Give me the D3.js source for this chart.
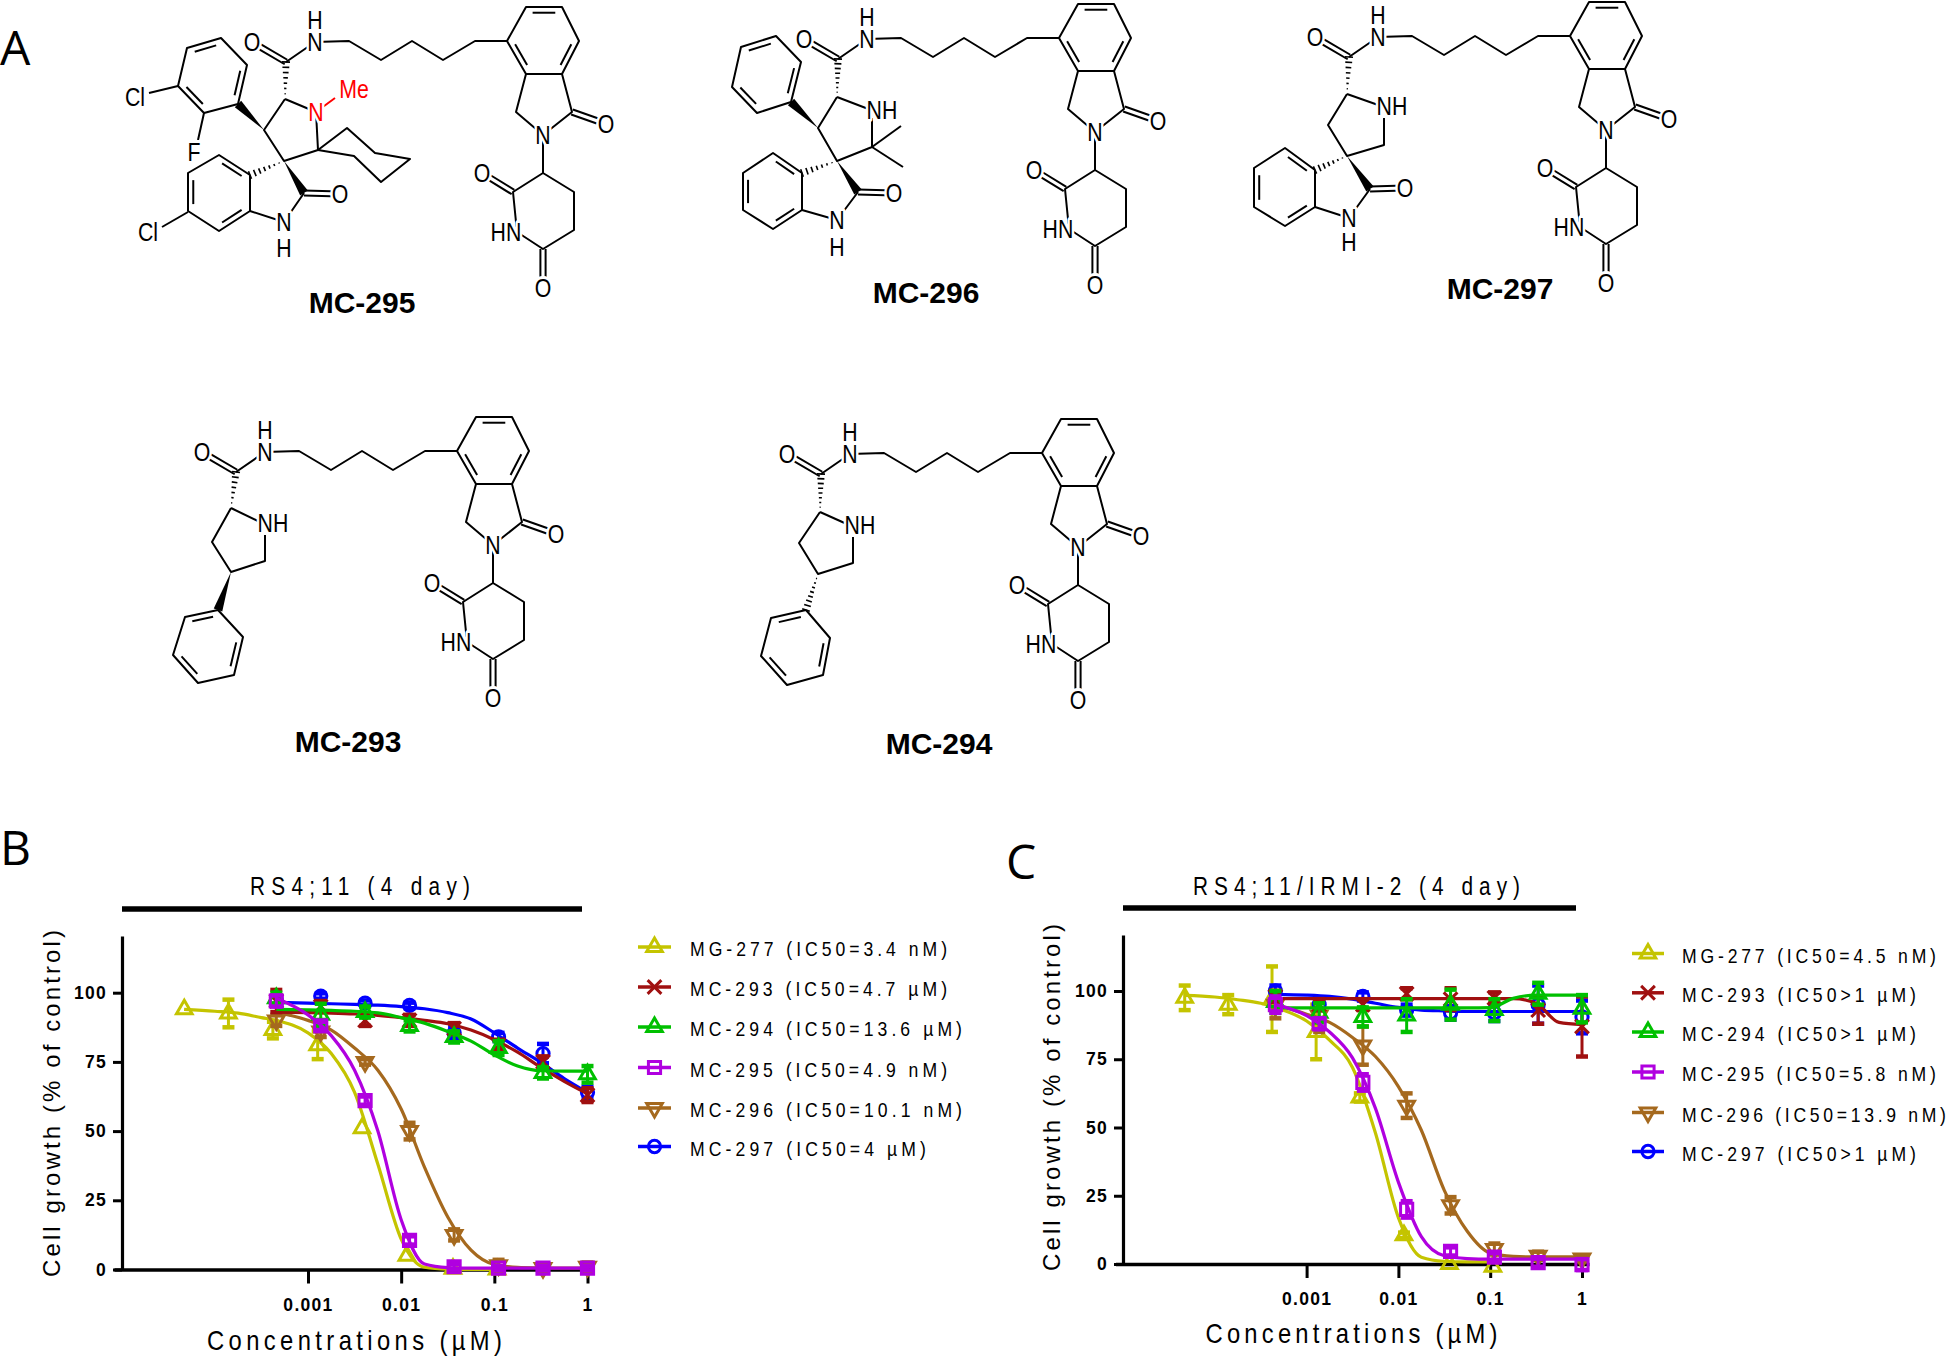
<!DOCTYPE html>
<html><head><meta charset="utf-8">
<script src="https://cdnjs.cloudflare.com/ajax/libs/d3/7.8.5/d3.min.js"></script>
<style>html,body{margin:0;background:#fff}svg{display:block}text{font-family:"Liberation Sans",Arial,sans-serif;fill:#000}</style>
</head><body><svg id="c" width="1950" height="1356"></svg>
<script>
// ---------- DATA ----------
const tickValues = [0.001, 0.01, 0.1, 1];
const tickLabels = ["0.001", "0.01", "0.1", "1"];
const yTicks = [0, 25, 50, 75, 100];
const concMC = [1, 0.333, 0.111, 0.037, 0.0123, 0.0041, 0.00137, 0.000457];
const concMG = [0.107, 0.036, 0.0115, 0.0038, 0.00127, 0.00042, 0.00014, 0.000047];
const fitLogC = [-4.33, -4, -3.75, -3.5, -3.34, -3, -2.75, -2.5, -2.25, -2, -1.75, -1.5, -1.25, -1, -0.75, -0.5, -0.25, 0];
const seriesNames = ["MG-277", "MC-293", "MC-294", "MC-295", "MC-296", "MC-297"];
const seriesColors = ["#c4c400", "#a01010", "#00c000", "#b000e0", "#a5691e", "#0000ff"];
const drawOrder = [0, 5, 4, 1, 2, 3];
const legendB = ["MG-277 (IC50=3.4 nM)", "MC-293 (IC50=4.7 µM)", "MC-294 (IC50=13.6 µM)", "MC-295 (IC50=4.9 nM)", "MC-296 (IC50=10.1 nM)", "MC-297 (IC50=4 µM)"];
const legendC = ["MG-277 (IC50=4.5 nM)", "MC-293 (IC50>1 µM)", "MC-294 (IC50>1 µM)", "MC-295 (IC50=5.8 nM)", "MC-296 (IC50=13.9 nM)", "MC-297 (IC50>1 µM)"];

const bMeans = [
  [0, 0.3, 5, 51, 81, 86.5, 92.5, 94],
  [63, 75, 81, 87, 90, 90, 95, 97],
  [70.5, 71, 80, 84, 88, 93, 92, 98],
  [0.5, 0.5, 0.5, 1, 10.5, 61, 88, 97],
  [1, 0.5, 1.5, 12.5, 50, 75, 86, 90],
  [64, 78, 84, 85.5, 95.4, 96.2, 98.8, 97]];
const bErrs = [
  [0, 0, 0, 0, 5, 3, 5, 0],
  [2.5, 2, 2, 2, 2, 2, 2, 4],
  [3, 2, 2.5, 2, 2, 2, 4, 2],
  [0.8, 0.8, 0.8, 1, 1.5, 1.5, 1.5, 2],
  [1.5, 1, 2, 2, 3, 1, 2, 2],
  [2, 3.5, 1.5, 2, 1, 1, 1, 1.5]];
const bFits = [
  [94, 93.3, 92.6, 91, 90, 85.5, 78, 64, 38, 11, 0.8, 0.1, 0, 0, null, null, null, null],
  [null, null, null, null, 93, 92.8, 92.6, 92.3, 91.8, 91, 90, 88.8, 86.5, 83, 78.5, 73, 68, 63.5],
  [null, null, null, null, 94, 93.8, 93.6, 93.3, 92.7, 91, 89, 86, 82.5, 77.5, 73.5, 71.8, 71.7, 71.7],
  [null, null, null, null, 98, 92, 84.5, 72, 50, 18, 2, 0.7, 0.5, 0.5, 0.5, 0.5, 0.5, 0.5],
  [null, null, null, null, 93, 90, 86.5, 80, 72, 58, 37, 19, 7, 1.8, 0.8, 0.6, 0.5, 0.5],
  [null, null, null, null, 96.5, 96.2, 96, 95.8, 95.5, 95, 94.2, 92.8, 90.5, 85.5, 80, 74.8, 69, 64]];

const cMeans = [
  [-1, 0, 10.5, 61, 85, 97, 95, 97.5],
  [87, 93, 97.5, 97, 99, 95, 95, 98],
  [93.5, 99, 93, 95, 91, 90.5, 92, 96],
  [-0.2, 0.5, 2.5, 4.6, 20, 66.5, 88, 95],
  [2, 3, 5.5, 21.5, 58, 80, 91, 95],
  [90.5, 95, 92, 92, 93, 98, 95, 100]];
const cErrs = [
  [0, 0, 1, 1.5, 10, 12, 3.5, 4.5],
  [11, 5, 2, 4, 2, 2, 2, 2],
  [5, 4, 4, 5.5, 6, 3.5, 3.5, 4],
  [2, 1.5, 1.5, 1.5, 3, 3, 2, 3],
  [1, 1.5, 2, 3, 4.5, 7, 6, 5],
  [6, 7, 3, 2.5, 2, 1.5, 2, 2]];
const cFits = [
  [98.4, 97.8, 96.8, 95.5, 94, 89, 82, 72, 48, 17, 2.5, 1, 0.8, 0.8, null, null, null, null],
  [null, null, null, null, 97.2, 97.2, 97.2, 97.2, 97.2, 97.2, 97.2, 97.2, 97.2, 97.2, 97.2, 95.5, 88.5, 87.7],
  [null, null, null, null, 93.8, 93.8, 93.8, 93.8, 93.8, 93.8, 93.8, 93.8, 93.8, 93.9, 97.3, 98.5, 98.5, 98.5],
  [null, null, null, null, 95, 91, 85, 75.5, 57, 30, 10, 3, 2, 1.8, 1.8, 1.8, 1.8, 1.8],
  [null, null, null, null, 95, 91.5, 88.5, 83, 76, 65, 49, 27, 12, 4, 2.8, 2.6, 2.6, 2.6],
  [null, null, null, null, 98.8, 98.5, 98, 97, 95.5, 94, 93, 92.7, 92.5, 92.5, 92.5, 92.5, 92.5, 92.5]];

// Chemical structure drawings (atom positions of the scheme)
const tailAtoms = {C:[286,62],O:[252,42],N:[315,42],H:[315,20],
  l1:[349,41],l2:[381,60],l3:[412,41],l4:[443,60],l5:[475,41],
  a1:[507,41],a2:[526,7],a3:[562,7],a4:[579,41],a5:[562,74],a6:[526,74],
  ch2:[516,112],N2:[543,135],co:[572,112],O2:[606,124],
  g1:[543,173],g2:[574,192],g3:[574,230],g4:[543,249],gN:[517,232],g6:[513,192],gO1:[482,173],gO2:[543,288]};
const molecules = [
 {name:"MC-295", tail:[0,0], label:[362,302], C5:[285,99],
  chain:[[[285,99],[316,112],[318,150],[284,161],[264,130],[285,99]]],
  rings:[{p:[[238,104],[247,65],[221,38],[187,48],[178,86],[204,113]],d:[0,2,4]},
         {p:[[250,175],[219,155],[188,173],[188,211],[219,231],[250,211]],d:[0,2,4]}],
  singles:[[[318,150],[347,128],[375,153],[410,159],[381,182],[354,156],[318,150]],[[178,86],[149,93]],[[204,113],[198,140]],
    [[188,212],[162,227]],[[304,193],[284,222],[250,211]]],
  redBonds:[[[316,112],[335,98]]],
  wedges:[[[264,130],[238,104]],[[284,161],[304,193]]], hashes:[[[284,161],[250,175]]],
  doubles:[[[304,193],[340,194]]],
  labels:[["Cl",135,97],["F",194,152],["Cl",148,232],["O",340,194]],
  stack:[284,222,248],
  redLabels:[["N",316,112],["Me",354,89]]},
 {name:"MC-296", tail:[552,-3], label:[926,292], C5:[837,97],
  chain:[[[837,97],[871,110]],[[872,118],[872,147],[837,161],[818,128],[837,97]]],
  rings:[{p:[[791,102],[801,62],[776,36],[741,47],[732,87],[757,113]],d:[0,2,4]},
         {p:[[802,173],[773,153],[743,173],[743,210],[773,229],[802,210]],d:[0,2,4]}],
  singles:[[[872,147],[901,126]],[[872,147],[903,167]],[[858,192],[837,220],[802,210]]],
  redBonds:[], wedges:[[[818,128],[791,102]],[[837,161],[858,192]]], hashes:[[[837,161],[802,173]]],
  doubles:[[[858,192],[894,193]]],
  labels:[["NH",882,110],["O",894,193]], stack:[837,220,247], redLabels:[]},
 {name:"MC-297", tail:[1063,-5], label:[1500,288], C5:[1347,94],
  chain:[[[1347,94],[1381,106]],[[1384,118],[1384,145],[1347,156],[1328,125],[1347,94]]],
  rings:[{p:[[1315,170],[1285,148],[1254,168],[1254,207],[1285,226],[1315,207]],d:[0,2,4]}],
  singles:[[[1370,189],[1349,218],[1315,207]]],
  redBonds:[], wedges:[[[1347,156],[1370,189]]], hashes:[[[1347,156],[1315,170]]],
  doubles:[[[1370,189],[1405,188]]],
  labels:[["NH",1392,106],["O",1405,188]], stack:[1349,218,242], redLabels:[]},
 {name:"MC-293", tail:[-50,410], label:[348,741], C5:[231,508],
  chain:[[[231,508],[262,523]],[[265,535],[265,561],[231,572],[212,542],[231,508]]],
  rings:[{p:[[218,610],[243,637],[234,675],[198,683],[173,655],[185,617]],d:[1,3,5]}],
  singles:[], redBonds:[], wedges:[[[231,572],[218,610]]], hashes:[], doubles:[],
  labels:[["NH",273,523]], redLabels:[]},
 {name:"MC-294", tail:[535,412], label:[939,743], C5:[820,512],
  chain:[[[820,512],[849,525]],[[853,537],[853,563],[818,574],[799,543],[820,512]]],
  rings:[{p:[[806,610],[830,638],[823,675],[787,685],[761,656],[771,618]],d:[1,3,5]}],
  singles:[], redBonds:[], wedges:[], hashes:[[[818,574],[806,610]]], doubles:[],
  labels:[["NH",860,525]], redLabels:[]}
];
const panelLetters = [["A",0,65],["B",0,865],["C",1006,879]];

// ---------- CHART ----------
const svg = d3.select("#c");
function stretched(par, o){
  const g = par.append("g").attr("transform", `translate(${o.x},${o.y}) rotate(${o.rot||0}) scale(${o.sx||1},1)`);
  const t = g.append("text").text(o.text).attr("font-size", o.fs).attr("text-anchor", o.anchor||"start");
  if(o.w) t.attr("textLength", o.w/(o.sx||1)).attr("lengthAdjust","spacing");
  return t;
}
const marker = [
  d3.symbol().type(d3.symbolTriangle).size(105),
  d3.symbol().type(d3.symbolTimes).size(125),
  d3.symbol().type(d3.symbolTriangle).size(105),
  d3.symbol().type(d3.symbolSquare).size(148),
  d3.symbol().type(d3.symbolTriangle).size(105),
  d3.symbol().type(d3.symbolCircle).size(118)];
const markerRot = [0,0,0,0,180,0];

function styleTicks(sel){
  sel.attr("font-size",17.5).attr("font-weight","bold").attr("font-family","Liberation Sans").style("letter-spacing","1.3px");
}
function panel(cfg){
  const g = svg.append("g");
  const x = d3.scaleLog().domain([cfg.xv1, cfg.xv2]).range([cfg.xp1, cfg.xp2]);
  const xAxisScale = d3.scaleLog().domain([x.invert(cfg.axL), x.invert(cfg.axR)]).range([cfg.axL, cfg.axR]);
  const y = d3.scaleLinear().domain([0,100]).range([cfg.y0, cfg.y100]);
  const yAxisScale = d3.scaleLinear().domain([0, y.invert(cfg.yTop)]).range([cfg.y0, cfg.yTop]);

  const ax = g.append("g").attr("transform",`translate(0,${cfg.y0})`)
    .call(d3.axisBottom(xAxisScale).tickValues(tickValues).tickFormat((d,i)=>tickLabels[i]).tickSize(cfg.tick).tickSizeOuter(0).tickPadding(cfg.pad));
  ax.select(".domain").attr("stroke","#000").attr("stroke-width",3.6);
  ax.selectAll(".tick line").attr("stroke","#000").attr("stroke-width",3);
  styleTicks(ax.selectAll(".tick text"));
  const ay = g.append("g").attr("transform",`translate(${cfg.yAx},0)`)
    .call(d3.axisLeft(yAxisScale).tickValues(yTicks).tickSize(9).tickSizeOuter(0).tickPadding(6));
  ay.select(".domain").attr("stroke","#000").attr("stroke-width",3.2);
  ay.selectAll(".tick line").attr("stroke","#000").attr("stroke-width",3);
  styleTicks(ay.selectAll(".tick text"));

  g.append("line").attr("x1",cfg.bar[0]).attr("x2",cfg.bar[1]).attr("y1",cfg.barY).attr("y2",cfg.barY).attr("stroke","#000").attr("stroke-width",5.5);
  stretched(g,{x:cfg.titleX,y:895,text:cfg.title,fs:26,sx:0.8,w:cfg.titleW});
  stretched(g,{x:cfg.xlX,y:cfg.xlY,text:"Concentrations (µM)",fs:28,sx:0.85,w:cfg.xlW});
  stretched(g,{x:cfg.ylX,y:cfg.ylY,text:"Cell growth (% of control)",fs:24,sx:1,w:347,rot:-90});

  const line = d3.line().defined(d=>d[1]!=null).x(d=>x(Math.pow(10,d[0]))).y(d=>y(d[1])).curve(d3.curveMonotoneX);
  drawOrder.forEach(s=>{
    const col = seriesColors[s], conc = s===0?concMG:concMC;
    const sg = g.append("g");
    sg.append("path").attr("d",line(fitLogC.map((l,i)=>[l,cfg.fits[s][i]]))).attr("fill","none").attr("stroke",col).attr("stroke-width",3.2);
    const pts = conc.map((c,i)=>({c,m:cfg.means[s][i],e:cfg.errs[s][i]}));
    const eb = sg.selectAll(".eb").data(pts.filter(d=>d.e>0)).join("g");
    eb.append("line").attr("x1",d=>x(d.c)).attr("x2",d=>x(d.c)).attr("y1",d=>y(d.m-d.e)).attr("y2",d=>y(d.m+d.e)).attr("stroke",col).attr("stroke-width",3);
    [-1,1].forEach(k=>eb.append("line").attr("x1",d=>x(d.c)-6).attr("x2",d=>x(d.c)+6)
      .attr("y1",d=>y(d.m+k*d.e)).attr("y2",d=>y(d.m+k*d.e)).attr("stroke",col).attr("stroke-width",4.5));
    sg.selectAll(".mk").data(pts).join("path").attr("d",marker[s]())
      .attr("transform",d=>`translate(${x(d.c)},${y(d.m)}) rotate(${markerRot[s]})`)
      .attr("fill","none").attr("stroke",col).attr("stroke-width",3);
  });
  cfg.legend.forEach((t,i)=>{
    const ly = cfg.legY[i];
    g.append("line").attr("x1",cfg.legX[0]).attr("x2",cfg.legX[1]).attr("y1",ly).attr("y2",ly).attr("stroke",seriesColors[i]).attr("stroke-width",3.5);
    g.append("path").attr("d",marker[i]()).attr("transform",`translate(${(cfg.legX[0]+cfg.legX[1])/2},${ly}) rotate(${markerRot[i]})`)
      .attr("fill","none").attr("stroke",seriesColors[i]).attr("stroke-width",3);
    stretched(g,{x:cfg.legT,y:ly+9,text:t,fs:20,sx:0.88,w:cfg.legW[i]});
  });
}
panel({xv1:0.001,xv2:1,xp1:308,xp2:587.5,axL:114,axR:594,y0:1269.5,y100:992.7,yTop:936,yAx:122,tick:14,pad:15.5,
  bar:[122,582],barY:909,title:"RS4;11 (4 day)",titleX:250,titleW:220,xlX:207,xlY:1350,xlW:295,ylX:60,ylY:1277,
  means:bMeans,errs:bErrs,fits:bFits,legend:legendB,legX:[638,671],legY:[947,987,1027,1067.5,1108,1146.5],legT:690,legW:[257,257,272,257,272,236]});
panel({xv1:0.001,xv2:1,xp1:1306.6,xp2:1582,axL:1115.5,axR:1589,y0:1264,y100:991,yTop:935,yAx:1123,tick:14,pad:15,
  bar:[1123,1576],barY:908,title:"RS4;11/IRMI-2 (4 day)",titleX:1193,titleW:327,xlX:1205.5,xlY:1343,xlW:292,ylX:1060,ylY:1271,
  means:cMeans,errs:cErrs,fits:cFits,legend:legendC,legX:[1632,1664],legY:[953.5,992.8,1032,1072,1112.5,1151.5],legT:1682,legW:[254,234,234,254,264,234]});

// ---------- STRUCTURES ----------
const sw = 2;
const lineGen = d3.line();
function poly(g,pts,col="#000"){ g.append("path").attr("d",lineGen(pts)).attr("fill","none").attr("stroke",col).attr("stroke-width",sw).attr("stroke-linejoin","round"); }
function dbl(g,a,b,off=2.6,short=9){
  const dx=b[0]-a[0],dy=b[1]-a[1],L=Math.hypot(dx,dy),nx=-dy/L*off,ny=dx/L*off;
  const e=[b[0]-dx/L*short,b[1]-dy/L*short];
  poly(g,[[a[0]+nx,a[1]+ny],[e[0]+nx,e[1]+ny]]); poly(g,[[a[0]-nx,a[1]-ny],[e[0]-nx,e[1]-ny]]);
}
function ring(g,p,d){
  poly(g,[...p,p[0]]);
  const cx=d3.mean(p,q=>q[0]),cy=d3.mean(p,q=>q[1]);
  d.forEach(i=>{
    const a=p[i],b=p[(i+1)%p.length];
    const sh=(q,o)=>[q[0]+(cx-q[0])*0.17+(o?(o[0]-q[0])*0.1:0),q[1]+(cy-q[1])*0.17+(o?(o[1]-q[1])*0.1:0)];
    poly(g,[sh(a,b),sh(b,a)]);
  });
}
function wedge(g,a,b,w=4.5){
  const dx=b[0]-a[0],dy=b[1]-a[1],L=Math.hypot(dx,dy),nx=-dy/L*w,ny=dx/L*w;
  g.append("path").attr("d",lineGen([a,[b[0]+nx,b[1]+ny],[b[0]-nx,b[1]-ny]])+"Z").attr("fill","#000");
}
function hash(g,a,b,w=4){
  const dx=b[0]-a[0],dy=b[1]-a[1],L=Math.hypot(dx,dy),n=Math.max(5,Math.round(L/5));
  d3.range(1,n+1).forEach(i=>{
    const t=i/n,px=a[0]+dx*t,py=a[1]+dy*t,nx=-dy/L*w*t,ny=dx/L*w*t;
    g.append("line").attr("x1",px+nx).attr("y1",py+ny).attr("x2",px-nx).attr("y2",py-ny).attr("stroke","#000").attr("stroke-width",1.6);
  });
}
function atom(g,t,x,y,col="#000"){
  g.append("text").text(t).attr("transform",`translate(${x},${y}) scale(0.82,1)`).attr("text-anchor","middle").attr("dy","0.36em")
    .attr("font-size",26).style("fill",col).attr("stroke","#fff").attr("stroke-width",6).attr("paint-order","stroke").attr("stroke-linejoin","round");
}
// one text holding two stacked atom symbols (N with its H above or below)
function stack(g,top,bottom,x,yTop,yBottom){
  const t=g.append("text").attr("transform",`translate(${x},${yTop}) scale(0.82,1)`).attr("text-anchor","middle")
    .attr("font-size",26).attr("stroke","#fff").attr("stroke-width",6).attr("paint-order","stroke").attr("stroke-linejoin","round");
  t.append("tspan").attr("x",0).attr("dy","0.36em").text(top);
  t.append("tspan").attr("x",0).attr("dy",yBottom-yTop).text(bottom);
}
molecules.forEach(m=>{
  const g = svg.append("g");
  const T = tailAtoms;
  const tg = g.append("g").attr("transform",`translate(${m.tail[0]},${m.tail[1]})`);
  poly(tg,[T.C,T.N,T.l1,T.l2,T.l3,T.l4,T.l5,T.a1]);
  dbl(tg,T.C,T.O);
  ring(tg,[T.a1,T.a2,T.a3,T.a4,T.a5,T.a6],[1,3,5]);
  poly(tg,[T.a6,T.ch2,T.N2,T.co,T.a5]);
  dbl(tg,T.co,T.O2);
  poly(tg,[T.N2,T.g1,T.g2,T.g3,T.g4,T.gN,T.g6,T.g1]);
  dbl(tg,T.g6,T.gO1); dbl(tg,T.g4,T.gO2);
  const amide=[T.C[0]+m.tail[0],T.C[1]+m.tail[1]];
  hash(g,m.C5,amide);
  m.chain.forEach(c=>poly(g,c));
  m.singles.forEach(c=>poly(g,c));
  m.redBonds.forEach(c=>poly(g,c,"#f00"));
  m.rings.forEach(r=>ring(g,r.p,r.d));
  m.wedges.forEach(w=>wedge(g,w[0],w[1]));
  m.hashes.forEach(h=>hash(g,h[0],h[1]));
  m.doubles.forEach(d=>dbl(g,d[0],d[1]));
  [["O",T.O],["N",T.N2],["O",T.O2],["O",T.gO1],["O",T.gO2]].forEach(a=>atom(tg,a[0],a[1][0],a[1][1]));
  stack(tg,"H","N",T.N[0],T.H[1],T.N[1]);
  atom(tg,"HN",T.gN[0]-11,T.gN[1]);
  m.labels.forEach(a=>atom(g,a[0],a[1],a[2]));
  if(m.stack) stack(g,"N","H",m.stack[0],m.stack[1],m.stack[2]);
  m.redLabels.forEach(a=>atom(g,a[0],a[1],a[2],"#f00"));
  g.append("text").text(m.name).attr("x",m.label[0]).attr("y",m.label[1]).attr("text-anchor","middle").attr("dy","0.36em")
    .attr("font-size",30).attr("font-weight","bold");
});
panelLetters.forEach(l=>{
  svg.append("text").text(l[0]).attr("x",l[1]).attr("y",l[2]).attr("font-size",48).style("font-family","Open Sans");
});
</script></body></html>
